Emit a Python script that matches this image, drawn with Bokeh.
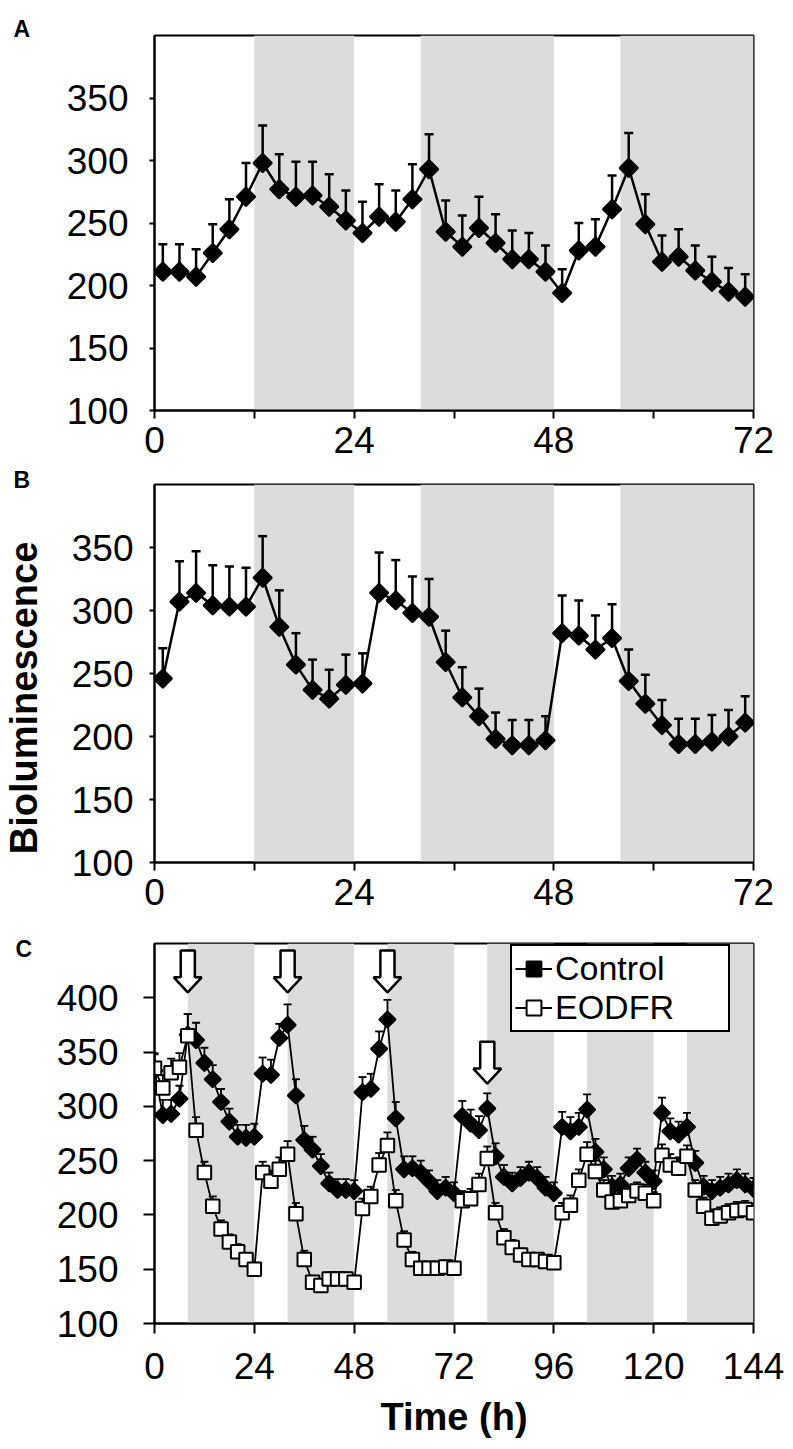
import numpy as np
from bokeh.plotting import figure
from bokeh.models import Range1d, FixedTicker, BoxAnnotation, Legend, LegendItem
from bokeh.layouts import column, row
from bokeh.embed import file_html
from bokeh.resources import INLINE
from bokeh.core.properties import value

# ---------------- data ----------------
# Panel A
a_time = [1, 3, 5, 7, 9, 11, 13, 15, 17, 19, 21, 23, 25, 27, 29, 31, 33, 35,
          37, 39, 41, 43, 45, 47, 49, 51, 53, 55, 57, 59, 61, 63, 65, 67, 69, 71]
a_mean = [211, 211, 207, 226, 245, 271, 298, 277, 271, 272, 263, 252, 242, 255, 251, 269, 293, 243,
          231, 246, 234, 221, 221, 211, 194, 228, 231, 261, 294, 249, 219, 223, 212, 203, 195, 191]
a_err = [22, 22, 22, 23, 24, 27, 30, 28, 28, 27, 26, 24, 25, 26, 25, 28, 28, 25,
         25, 25, 23, 23, 21, 21, 19, 22, 22, 27, 28, 24, 21, 22, 20, 20, 19, 18]
a_dark_start = [12, 32, 56]
a_dark_end = [24, 48, 72]

# Panel B
b_time = a_time
b_mean = [246, 307, 314, 304, 303, 303, 326, 287, 257, 237, 230, 241, 242, 314, 308, 298, 295, 259,
          231, 216, 198, 193, 193, 197, 282, 280, 269, 278, 244, 226, 209, 194, 194, 196, 200, 211]
b_err = [24, 32, 33, 32, 32, 31, 33, 29, 25, 24, 23, 24, 24, 32, 32, 29, 30, 25,
         24, 22, 21, 20, 20, 19, 30, 28, 27, 27, 25, 23, 20, 20, 20, 21, 21, 21]
b_dark_start = [12, 32, 56]
b_dark_end = [24, 48, 72]

# Panel C
c_time = [0, 2, 4, 6, 8, 10, 12, 14, 16, 18, 20, 22,
          24, 26, 28, 30, 32, 34, 36, 38, 40, 42, 44, 46,
          48, 50, 52, 54, 56, 58, 60, 62, 64, 66, 68, 70,
          72, 74, 76, 78, 80, 82, 84, 86, 88, 90, 92, 94,
          96, 98, 100, 102, 104, 106, 108, 110, 112, 114, 116, 118,
          120, 122, 124, 126, 128, 130, 132, 134, 136, 138, 140, 142, 144]
c_control = [333, 292, 293, 307, 366, 361, 340, 325, 304, 286, 272, 271,
             272, 330, 329, 363, 375, 310, 269, 260, 245, 229, 223, 223,
             222, 313, 316, 353, 380, 289, 242, 243, 239, 231, 222, 225,
             220, 291, 284, 278, 298, 254, 235, 229, 234, 239, 234, 225,
             220, 281, 277, 281, 297, 258, 242, 226, 228, 243, 251, 239,
             231, 294, 277, 274, 281, 248, 226, 222, 225, 228, 232, 228, 224]
c_control_err = [15, 14, 13, 12, 19, 16, 14, 13, 12, 12, 11, 12,
                 12, 15, 14, 13, 19, 15, 13, 12, 11, 10, 10, 10,
                 10, 14, 14, 16, 18, 15, 12, 11, 11, 10, 10, 10,
                 10, 14, 13, 13, 14, 12, 11, 10, 10, 10, 10, 10,
                 10, 14, 13, 13, 14, 12, 11, 10, 10, 10, 10, 10,
                 10, 14, 12, 12, 13, 11, 10, 10, 10, 10, 10, 10, 10]
c_eodfr = [335, 317, 331, 336, 365, 278, 239, 208, 187, 175, 166, 159,
           150, 239, 231, 242, 256, 201, 159, 138, 135, 141, 141, 141,
           138, 206, 217, 246, 264, 213, 177, 159, 151, 151, 151, 152,
           151, 213, 215, 228, 252, 202, 179, 170, 163, 159, 159, 157,
           156, 202, 209, 232, 256, 240, 223, 212, 213, 218, 222, 220,
           213, 255, 246, 243, 254, 223, 208, 197, 199, 202, 204, 205, 202]
c_eodfr_err = [14, 12, 13, 13, 20, 12, 10, 9, 8, 7, 7, 6,
               6, 10, 10, 11, 12, 10, 8, 6, 6, 6, 6, 6,
               6, 9, 9, 11, 12, 10, 8, 7, 6, 6, 6, 6,
               6, 9, 9, 10, 11, 9, 8, 7, 6, 6, 6, 6,
               6, 9, 9, 10, 11, 10, 9, 8, 8, 8, 8, 8,
               8, 10, 10, 10, 10, 9, 8, 8, 8, 8, 8, 8, 8]
c_dark_start = [8, 32, 56, 80, 104, 128]
c_dark_end = [24, 48, 72, 96, 120, 144]
arrow_times = [8, 32, 56, 80]
arrow_tips = [405, 405, 405, 321]

panel_letters = ["A", "B", "C"]
y_title = "Bioluminescence"
x_title = "Time (h)"

FONT = "Liberation Sans"
GRAY = "#dcdcdc"
STRIP_W = 50
W = 793 - STRIP_W
H_A, H_B, H_C = 466, 452, 531
H_TOTAL = H_A + H_B + H_C


def base_fig(height, frame_left, top, bottom, right, x_end, y_end, x_ticks, x_minor,
             y_ticks, tick_out_x, tick_out_y, y_standoff, x_standoff, x_align="center"):
    p = figure(width=W, height=height, output_backend="svg", toolbar_location=None,
               x_range=Range1d(0, x_end), y_range=Range1d(100, y_end),
               min_border_left=frame_left, min_border_top=top,
               min_border_bottom=bottom, min_border_right=right)
    p.xgrid.visible = False
    p.ygrid.visible = False
    p.outline_line_color = "black"
    p.outline_line_width = 2
    p.outline_line_alpha = 1
    p.background_fill_color = "white"
    p.border_fill_color = "white"
    xa = p.xaxis[0]
    xa.ticker = FixedTicker(ticks=x_ticks, minor_ticks=x_minor)
    ya = p.yaxis[0]
    ya.ticker = FixedTicker(ticks=y_ticks, minor_ticks=[])
    for ax, tout, so in ((xa, tick_out_x, x_standoff), (ya, tick_out_y, y_standoff)):
        ax.axis_line_color = "black"
        ax.axis_line_width = 2
        ax.major_tick_line_color = "black"
        ax.major_tick_line_width = 2
        ax.minor_tick_line_color = "black"
        ax.minor_tick_line_width = 2
        ax.major_tick_in = 0
        ax.major_tick_out = tout
        ax.minor_tick_in = 0
        ax.minor_tick_out = tout
        ax.major_label_text_font = FONT
        ax.major_label_text_font_size = "37px"
        ax.major_label_text_color = "black"
        ax.major_label_standoff = so
    xa.major_label_text_align = x_align
    return p


def bands(p, starts, ends):
    for s, e in zip(starts, ends):
        p.add_layout(BoxAnnotation(left=s, right=e, fill_color=GRAY, fill_alpha=1,
                                   line_alpha=0, level="underlay"))


def series(p, t, mean, err, fill, size, cap, lw, mlw, angle=0.0):
    top = [m + e for m, e in zip(mean, err)]
    p.segment(x0=t, y0=mean, x1=t, y1=top, line_color="black", line_width=lw)
    p.scatter(t, top, marker="dash", size=cap, line_color="black", line_width=lw)
    ln = p.line(t, mean, line_color="black", line_width=lw)
    mk = p.scatter(t, mean, marker="square", angle=angle, size=size, fill_color=fill,
                   line_color="black", line_width=mlw)
    return ln, mk


LEFT = 153 - STRIP_W

# ---------------- Panel A ----------------
pa = base_fig(H_A, LEFT, 35, 56, 40, 72, 400, [0, 24, 48, 72], [12, 36, 60],
              [100, 150, 200, 250, 300, 350], 8, 5, 21, 8, x_align="left")
bands(pa, a_dark_start, a_dark_end)
series(pa, a_time, a_mean, a_err, "black", 13, 9, 2.5, 2, angle=np.pi / 4)

# ---------------- Panel B ----------------
pb = base_fig(H_B, LEFT, 18, 56, 40, 72, 400, [0, 24, 48, 72], [12, 36, 60],
              [100, 150, 200, 250, 300, 350], 8, 5, 16, 8, x_align="left")
bands(pb, b_dark_start, b_dark_end)
series(pb, b_time, b_mean, b_err, "black", 13, 9, 2.5, 2, angle=np.pi / 4)

# ---------------- Panel C ----------------
pc = base_fig(H_C, LEFT + 1, 25, 126, 35, 144, 450,
              [0, 24, 48, 72, 96, 120, 144], [],
              [100, 150, 200, 250, 300, 350, 400], 10, 11, 25, 19)
bands(pc, c_dark_start, c_dark_end)
c_ln, c_mk = series(pc, c_time, c_control, c_control_err, "black", 11.5, 8, 1.8, 2,
                    angle=np.pi / 4)
e_ln, e_mk = series(pc, c_time, c_eodfr, c_eodfr_err, "white", 13.5, 8, 1.8, 2)

# hollow block arrows marking treatments
shaft_hw, head_hw, head_h, arrow_len = 1.7, 3.35, 13.8, 38.5
axs, ays = [], []
for t, tip in zip(arrow_times, arrow_tips):
    axs.append([t - shaft_hw, t + shaft_hw, t + shaft_hw, t + head_hw, t, t - head_hw,
                t - shaft_hw])
    ays.append([tip + arrow_len, tip + arrow_len, tip + head_h, tip + head_h, tip,
                tip + head_h, tip + head_h])
pc.patches(axs, ays, fill_color="white", line_color="black", line_width=2.5)

legend = Legend(items=[LegendItem(label="Control", renderers=[c_ln, c_mk]),
                       LegendItem(label="EODFR", renderers=[e_ln, e_mk])],
                location=(356, 291), orientation="vertical")
legend.label_text_font = FONT
legend.label_text_font_size = "34px"
legend.label_text_color = "black"
legend.glyph_width = 37
legend.glyph_height = 37
legend.label_standoff = 3
legend.padding = 3
legend.spacing = 0
legend.margin = 0
legend.label_width = 170
legend.border_line_color = "black"
legend.border_line_width = 2
legend.border_line_alpha = 1
legend.background_fill_color = "white"
legend.background_fill_alpha = 1
pc.add_layout(legend)

xa = pc.xaxis[0]
xa.axis_label = x_title
xa.axis_label_text_font = FONT
xa.axis_label_text_font_style = "bold"
xa.axis_label_text_font_size = "38px"
xa.axis_label_text_color = "black"
xa.axis_label_standoff = 14

# ---------------- left strip: panel letters and shared y title ----------------
strip = figure(width=STRIP_W, height=H_TOTAL, output_backend="svg", toolbar_location=None,
               x_range=Range1d(0, STRIP_W), y_range=Range1d(0, H_TOTAL),
               min_border=0, min_border_left=0, min_border_right=0,
               min_border_top=0, min_border_bottom=0)
strip.axis.visible = False
strip.xgrid.visible = False
strip.ygrid.visible = False
strip.outline_line_color = None
strip.background_fill_color = "white"
strip.border_fill_color = "white"
letter_x = [13, 13, 15]
letter_baseline_from_top = [28.5, 479, 948]
strip.text(x=letter_x, y=[H_TOTAL - v for v in letter_baseline_from_top], text=panel_letters,
           text_font=value(FONT), text_font_style="bold", text_font_size="23px",
           text_baseline="alphabetic", text_align="left", text_color="black")
strip.text(x=[23], y=[H_TOTAL - 697.5], text=[y_title], angle=np.pi / 2,
           text_font=value(FONT), text_font_style="bold", text_font_size="38px",
           text_baseline="middle", text_align="center", text_color="black")

layout = row(strip, column(pa, pb, pc, spacing=0), spacing=0)
open("out.html", "w").write(file_html(layout, INLINE))
